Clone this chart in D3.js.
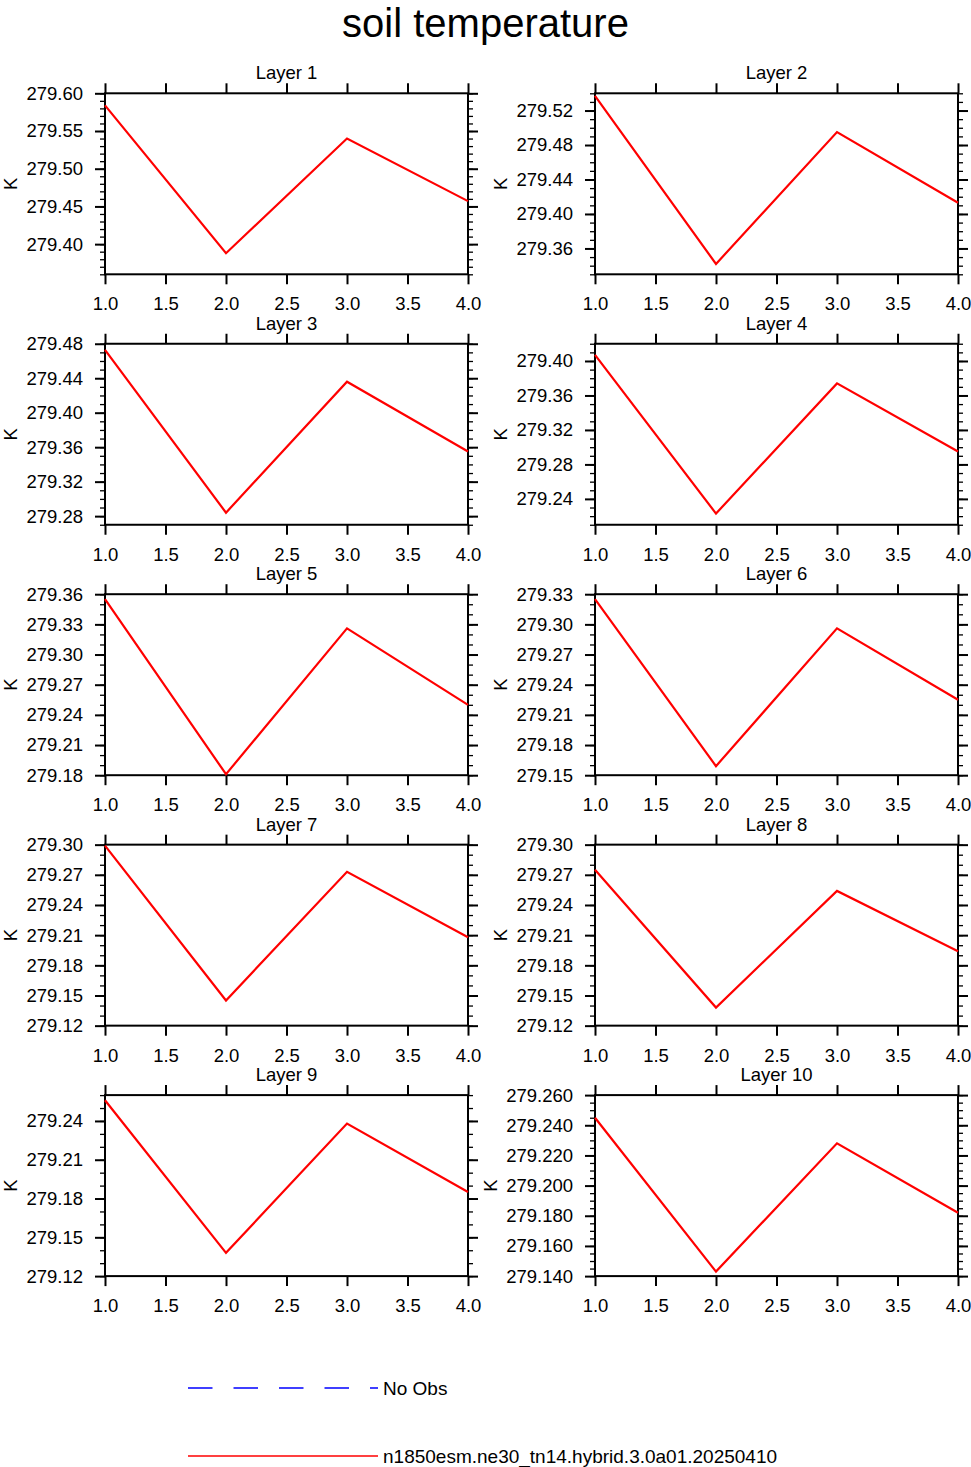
<!DOCTYPE html>
<html>
<head>
<meta charset="utf-8">
<script src="https://cdn.jsdelivr.net/npm/d3@7"></script>
<style>
  html, body { margin: 0; padding: 0; background: #fff; }
  svg { display: block; }
  text { font-family: "Liberation Sans", Arial, Helvetica, sans-serif; fill: #000; }
</style>
</head>
<body>
<script>
// ---------------- data ----------------
const xValues = [1, 2, 3, 4];
const xTicks = [1.0, 1.5, 2.0, 2.5, 3.0, 3.5, 4.0];
const layerNames = ["Layer 1","Layer 2","Layer 3","Layer 4","Layer 5","Layer 6","Layer 7","Layer 8","Layer 9","Layer 10"];

const layer1  = [279.584, 279.388, 279.540, 279.457];
const layer2  = [279.537, 279.342, 279.495, 279.413];
const layer3  = [279.473, 279.284, 279.436, 279.355];
const layer4  = [279.407, 279.223, 279.374, 279.295];
const layer5  = [279.355, 279.181, 279.326, 279.250];
const layer6  = [279.325, 279.159, 279.296, 279.225];
const layer7  = [279.299, 279.145, 279.273, 279.208];
const layer8  = [279.275, 279.138, 279.254, 279.194];
const layer9  = [279.256, 279.138, 279.238, 279.185];
const layer10 = [279.245, 279.143, 279.228, 279.182];
const layerValues = [layer1, layer2, layer3, layer4, layer5, layer6, layer7, layer8, layer9, layer10];

const yDomains = [
  [279.36, 279.60], [279.33, 279.54], [279.27, 279.48], [279.21, 279.42], [279.18, 279.36],
  [279.15, 279.33], [279.12, 279.30], [279.12, 279.30], [279.12, 279.26], [279.14, 279.26]
];
const yTicks1  = [279.40, 279.45, 279.50, 279.55, 279.60];
const yTicks2  = [279.36, 279.40, 279.44, 279.48, 279.52];
const yTicks3  = [279.28, 279.32, 279.36, 279.40, 279.44, 279.48];
const yTicks4  = [279.24, 279.28, 279.32, 279.36, 279.40];
const yTicks5  = [279.18, 279.21, 279.24, 279.27, 279.30, 279.33, 279.36];
const yTicks6  = [279.15, 279.18, 279.21, 279.24, 279.27, 279.30, 279.33];
const yTicks7  = [279.12, 279.15, 279.18, 279.21, 279.24, 279.27, 279.30];
const yTicks8  = [279.12, 279.15, 279.18, 279.21, 279.24, 279.27, 279.30];
const yTicks9  = [279.12, 279.15, 279.18, 279.21, 279.24];
const yTicks10 = [279.140, 279.160, 279.180, 279.200, 279.220, 279.240, 279.260];
const yTickSets = [yTicks1, yTicks2, yTicks3, yTicks4, yTicks5, yTicks6, yTicks7, yTicks8, yTicks9, yTicks10];
const yDecimals = [2, 2, 2, 2, 2, 2, 2, 2, 2, 3];
const yMinorSteps = [0.01, 0.01, 0.01, 0.01, 0.01, 0.01, 0.01, 0.01, 0.01, 0.005];

const titleText = "soil temperature";
const yUnits = "K";
const legendLabels = ["No Obs", "n1850esm.ne30_tn14.hybrid.3.0a01.20250410"];
const legendColors = ["#0000ff", "#ff0000"];

// ---------------- layout ----------------
const W = 971, H = 1467;
const colLeft = [105, 595];
const plotW = 363;
const rowTop0 = 93.3, rowStep = 250.45, plotH = 181;
const FONT = 18.5;

const svg = d3.select("body").append("svg").attr("width", W).attr("height", H);

svg.append("text").attr("x", 485.5).attr("y", 36.5).attr("text-anchor", "middle")
  .style("font-size", "40px").text(titleText);

layerValues.forEach((vals, i) => {
  const col = i % 2, row = Math.floor(i / 2);
  const left = colLeft[col], top = rowTop0 + row * rowStep;
  const g = svg.append("g").attr("transform", `translate(${left},${top})`);

  const x = d3.scaleLinear().domain([1, 4]).range([0, plotW]);
  const y = d3.scaleLinear().domain(yDomains[i]).range([plotH, 0]);

  // minor y ticks
  const [y0, y1] = yDomains[i];
  const nMinor = Math.round((y1 - y0) / yMinorSteps[i]);
  const minor = d3.range(nMinor + 1).map(k => y0 + k * yMinorSteps[i]);

  const fmt = d3.format("." + yDecimals[i] + "f");

  // left axis
  const la = g.append("g").call(d3.axisLeft(y).tickValues(minor).tickSize(5).tickFormat(""));
  la.select(".domain").remove();
  la.selectAll("line").attr("stroke-width", 1.3);
  const laM = g.append("g").call(d3.axisLeft(y).tickValues(yTickSets[i]).tickSize(10).tickPadding(12).tickFormat(fmt));
  laM.select(".domain").remove();
  laM.selectAll("line").attr("stroke-width", 2);
  laM.selectAll("text").style("font-size", FONT + "px").attr("fill", "#000");

  // right axis
  const ra = g.append("g").attr("transform", `translate(${plotW},0)`)
    .call(d3.axisRight(y).tickValues(minor).tickSize(5).tickFormat(""));
  ra.select(".domain").remove();
  ra.selectAll("line").attr("stroke-width", 1.3);
  const raM = g.append("g").attr("transform", `translate(${plotW},0)`)
    .call(d3.axisRight(y).tickValues(yTickSets[i]).tickSize(10).tickFormat(""));
  raM.select(".domain").remove();
  raM.selectAll("line").attr("stroke-width", 2);

  // bottom axis
  const ba = g.append("g").attr("transform", `translate(0,${plotH})`)
    .call(d3.axisBottom(x).tickValues(xTicks).tickSize(10).tickPadding(13).tickFormat(d3.format(".1f")));
  ba.select(".domain").remove();
  ba.selectAll("line").attr("stroke-width", 2);
  ba.selectAll("text").style("font-size", FONT + "px").attr("fill", "#000");

  // top axis
  const ta = g.append("g").call(d3.axisTop(x).tickValues(xTicks).tickSize(10).tickFormat(""));
  ta.select(".domain").remove();
  ta.selectAll("line").attr("stroke-width", 2);

  // frame
  g.append("rect").attr("x", 0).attr("y", 0).attr("width", plotW).attr("height", plotH)
    .attr("fill", "none").attr("stroke", "#000").attr("stroke-width", 2);

  // data line
  const line = d3.line().x((d, k) => x(xValues[k])).y(d => y(d));
  g.append("path").datum(vals).attr("d", line)
    .attr("fill", "none").attr("stroke", "#ff0000").attr("stroke-width", 2.2)
    .attr("stroke-linejoin", "miter");

  // panel title
  g.append("text").attr("x", plotW / 2).attr("y", -14).attr("text-anchor", "middle")
    .style("font-size", FONT + "px").text(layerNames[i]);

  // y-axis units label
  let maxW = 0;
  laM.selectAll("text").each(function () { maxW = Math.max(maxW, this.getComputedTextLength()); });
  const kx = Math.max(-22 - maxW - 9, 14 - left);
  g.append("text").attr("transform", `translate(${kx},${plotH / 2}) rotate(-90)`)
    .attr("text-anchor", "middle").style("font-size", FONT + "px").text(yUnits);
});

// ---------------- legend ----------------
const legY = [1388, 1456];
const legend = svg.append("g");
legendLabels.forEach((lab, i) => {
  legend.append("line").attr("x1", 188).attr("x2", 378).attr("y1", legY[i]).attr("y2", legY[i])
    .attr("stroke", legendColors[i]).attr("stroke-width", 1.5)
    .attr("stroke-dasharray", i === 0 ? "24.5,21" : null);
  legend.append("text").attr("x", 383).attr("y", legY[i] + 7)
    .style("font-size", "19px").text(lab);
});
</script>
</body>
</html>
